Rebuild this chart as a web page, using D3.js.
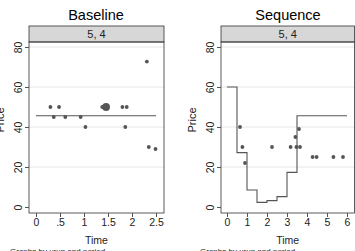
<!DOCTYPE html>
<html><head><meta charset="utf-8">
<script src="https://cdn.jsdelivr.net/npm/d3@7"></script>
<style>body{margin:0;background:#fff}svg{display:block}text{font-family:"Liberation Sans",Arial,sans-serif}</style>
</head><body>
<svg id="c" width="355" height="251"></svg>
<script>
const panelTitles = ["Baseline", "Sequence"];
const stripLabel = "5, 4";
const yTicks = [0, 20, 40, 60, 80];
const gridTicks = [20, 40, 60, 80];
const baselineXTicks = [0, 0.5, 1, 1.5, 2, 2.5];
const baselineXTickLabels = ["0", ".5", "1", "1.5", "2", "2.5"];
const sequenceXTicks = [0, 1, 2, 3, 4, 5, 6];

// Baseline scatter
const baselineTime  = [0.30, 0.48, 0.37, 0.61, 0.93, 1.38, 1.42, 1.46, 1.80, 1.89, 2.31, 1.03, 1.86, 2.35, 2.49];
const baselinePrice = [50,   50,   45,   45,   45,   50,   50,   50,   50,   50,   72.7, 40,   40,   30,   29];
const baselineCount = [1,    1,    1,    1,    1,    1,    1,    4,    1,    1,    1,    1,    1,    1,    1];
// Baseline reference line
const baselineLineTime  = [0, 2.5];
const baselineLinePrice = [45.6, 45.6];

// Sequence scatter
const seqTime  = [0.65, 0.77, 0.90, 2.25, 3.18, 3.42, 3.47, 3.65, 3.60, 4.28, 4.48, 5.32, 5.80];
const seqPrice = [40,   30,   22,   30,   30,   35,   30,   30,   39,   25,   25,   25,   25];
// Sequence step line
const stepTime  = [0,  0.5,  1,   1.5, 2,   2.5, 3,    3.5,  6];
const stepPrice = [60, 27.2, 8.5, 2.3, 3.2, 5.2, 17.3, 45.6, 45.6];

const svg = d3.select("#c");
const dark = "#555555";
const panels = [
  {left: 29, right: 164, x0: 36, x1: 156, dom: [0, 2.5], ticks: baselineXTicks, labels: baselineXTickLabels, title: panelTitles[0], cx: 96, footX: 10},
  {left: 221, right: 354.5, x0: 227, x1: 347, dom: [0, 6], ticks: sequenceXTicks, labels: sequenceXTicks.map(String), title: panelTitles[1], cx: 288, footX: 200}
];
const plotTop = 42, plotBottom = 213, stripTop = 26;
const y = d3.scaleLinear().domain([0, 80]).range([207, 47]);

panels.forEach((p) => {
  const x = d3.scaleLinear().domain(p.dom).range([p.x0, p.x1]);
  p.x = x;
  const g = svg.append("g");
  g.append("text").attr("x", p.cx).attr("y", 20).attr("text-anchor", "middle")
    .attr("font-size", 14.5).attr("fill", "#000").text(p.title);
  g.append("rect").attr("x", p.left).attr("y", stripTop).attr("width", p.right - p.left).attr("height", plotTop - stripTop)
    .attr("fill", "#d7d7d7").attr("stroke", "#333").attr("stroke-width", 0.8);
  g.append("text").attr("x", (p.left + p.right) / 2).attr("y", 37.5).attr("text-anchor", "middle")
    .attr("font-size", 11).attr("fill", "#222").text(stripLabel);
  g.selectAll(".grid").data(gridTicks).join("line")
    .attr("x1", p.left).attr("x2", p.right).attr("y1", d => y(d)).attr("y2", d => y(d))
    .attr("stroke", "#e6e6e6").attr("stroke-width", 1);
  g.append("rect").attr("x", p.left).attr("y", plotTop).attr("width", p.right - p.left).attr("height", plotBottom - plotTop)
    .attr("fill", "none").attr("stroke", "#333").attr("stroke-width", 0.8);
  const ya = g.append("g").attr("transform", `translate(${p.left},0)`)
    .call(d3.axisLeft(y).tickValues(yTicks).tickSize(4).tickSizeOuter(0));
  ya.select(".domain").remove();
  ya.selectAll("line").attr("stroke", dark);
  ya.selectAll("text").attr("font-size", 10.5).attr("fill", "#222")
    .attr("x", 0).attr("y", 0).attr("dy", 0).attr("text-anchor", "middle")
    .attr("transform", "translate(-7,0) rotate(-90)");
  g.append("text").attr("transform", `translate(${p.left - 25},120) rotate(-90)`).attr("text-anchor", "middle")
    .attr("font-size", 11).attr("fill", "#222").text("Price");
  const xa = g.append("g").attr("transform", `translate(0,${plotBottom})`)
    .call(d3.axisBottom(x).tickValues(p.ticks).tickFormat((d, k) => p.labels[k]).tickSize(4).tickSizeOuter(0).tickPadding(2));
  xa.select(".domain").remove();
  xa.selectAll("line").attr("stroke", dark);
  xa.selectAll("text").attr("font-size", 10.5).attr("fill", "#222");
  g.append("text").attr("x", (p.left + p.right) / 2).attr("y", 244).attr("text-anchor", "middle")
    .attr("font-size", 10.5).attr("fill", "#222").text("Time");
  g.append("text").attr("x", p.footX).attr("y", 254).attr("font-size", 8).attr("fill", "#222").text("Graphs by urun and period");
});

{
  const x = panels[0].x;
  svg.append("path").datum(baselineLineTime.map((t, i) => [t, baselineLinePrice[i]]))
    .attr("d", d3.line().x(d => x(d[0])).y(d => y(d[1])))
    .attr("fill", "none").attr("stroke", dark).attr("stroke-width", 1.1);
  const r = d3.scaleSqrt().domain([1, 4]).range([1.9, 3.9]);
  svg.selectAll(".bdot").data(baselineTime.map((t, i) => ({t, p: baselinePrice[i], n: baselineCount[i]})))
    .join("circle").attr("cx", d => x(d.t)).attr("cy", d => y(d.p)).attr("r", d => r(d.n)).attr("fill", dark);
}
{
  const x = panels[1].x;
  svg.append("path").datum(stepTime.map((t, i) => [t, stepPrice[i]]))
    .attr("d", d3.line().curve(d3.curveStepAfter).x(d => x(d[0])).y(d => y(d[1])))
    .attr("fill", "none").attr("stroke", dark).attr("stroke-width", 1.1);
  svg.selectAll(".sdot").data(seqTime.map((t, i) => ({t, p: seqPrice[i]})))
    .join("circle").attr("cx", d => x(d.t)).attr("cy", d => y(d.p)).attr("r", 1.9).attr("fill", dark);
}
</script>
</body></html>
